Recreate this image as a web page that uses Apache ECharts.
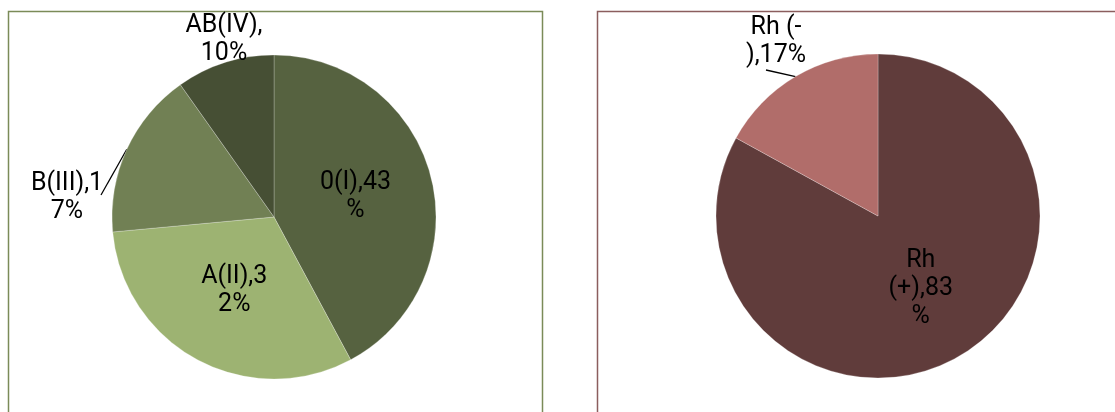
<!DOCTYPE html>
<html>
<head>
<meta charset="utf-8">
<script src="https://cdn.jsdelivr.net/npm/echarts@6/dist/echarts.min.js"></script>
<style>
  html, body { margin: 0; padding: 0; background: #ffffff; }
  #chart { width: 1115px; height: 412px; }
</style>
</head>
<body>
<div id="chart"></div>
<script>
// blood groups (ABO)
const aboNames = ["0(I)", "A(II)", "B(III)", "AB(IV)"];
const aboValues = [43, 32, 17, 10];
const aboLabels = ["0(I),43\n%", "A(II),3\n2%", "B(III),1\n7%", "AB(IV),\n10%"];
const aboColors = ["#566240", "#9db372", "#718054", "#464f34"];

// rhesus factor
const rhNames = ["Rh (+)", "Rh (-)"];
const rhValues = [83, 17];
const rhLabels = ["Rh\n(+),83\n%", "Rh (-\n),17%"];
const rhColors = ["#603c3b", "#b16d6a"];

const chart = echarts.init(document.getElementById("chart"));

const labelFont = {
  fontFamily: "Roboto",
  fontSize: 25,
  lineHeight: 28,
  color: "#000",
};

// outside labels: "series-dataIndex" -> label centre and leader end
const outsidePos = {
  "0-2": { x: 67, y: 198, end: [101, 195] },
  "0-3": { x: 224, y: 40, end: null },
  "1-1": { x: 776, y: 42, end: [766, 70] },
};

function buildData(names, values, labels, colors, outsideIdx) {
  return names.map((n, i) => ({
    name: n,
    value: values[i],
    itemStyle: { color: colors[i] },
    label: {
      formatter: labels[i],
      position: outsideIdx.indexOf(i) >= 0 ? "outside" : "inside",
    },
    labelLine: { show: outsideIdx.indexOf(i) >= 0 },
  }));
}

function moveLabel(params) {
  const p = outsidePos[params.seriesIndex + "-" + params.dataIndex];
  if (!p) return {};
  const out = { x: p.x, y: p.y, align: "center", verticalAlign: "middle" };
  if (params.labelLinePoints) {
    const rim = params.labelLinePoints[0];
    const end = p.end || rim;
    out.labelLinePoints = [rim, end, end];
  }
  return out;
}

function pieSeries(center, names, values, labels, colors, outsideIdx) {
  return {
    type: "pie",
    center: center,
    radius: 162,
    startAngle: 90,
    clockwise: true,
    avoidLabelOverlap: false,
    itemStyle: { borderColor: "rgba(255,255,255,0.3)", borderWidth: 0.8 },
    label: { ...labelFont, align: "center" },
    labelLine: { lineStyle: { color: "#000", width: 1.3 }, length: 10, length2: 0 },
    labelLayout: moveLabel,
    data: buildData(names, values, labels, colors, outsideIdx),
  };
}

chart.setOption({
  animation: false,
  graphic: [
    {
      type: "rect",
      shape: { x: 8.5, y: 11.5, width: 534, height: 430 },
      style: { fill: null, stroke: "#7b8b58", lineWidth: 1.5 },
    },
    {
      type: "rect",
      shape: { x: 597.5, y: 11.5, width: 600, height: 430 },
      style: { fill: null, stroke: "#8b5e5e", lineWidth: 1.5 },
    },
  ],
  series: [
    pieSeries([274, 217], aboNames, aboValues, aboLabels, aboColors, [2, 3]),
    pieSeries([878, 216], rhNames, rhValues, rhLabels, rhColors, [1]),
  ],
});
</script>
</body>
</html>
